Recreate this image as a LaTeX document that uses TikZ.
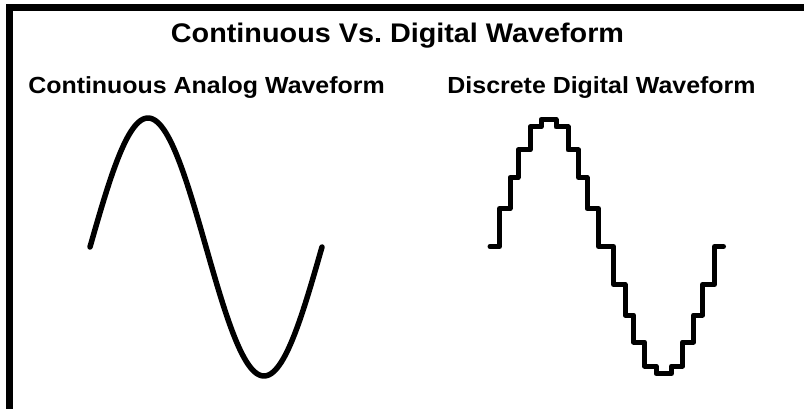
\documentclass[tikz,border=0pt]{standalone}
\usepackage{fontspec}
\setmainfont{Liberation Sans}[FakeStretch=1.07]

\tikzset{
  heading/.style={font=\bfseries\fontsize{26.9}{28}\selectfont, inner sep=0pt, anchor=base},
  subheading/.style={font=\bfseries\fontsize{23.3}{24}\selectfont, inner sep=0pt, anchor=base},
  wave/.style={line width=5.5pt, line cap=round, line join=round},
}

\begin{document}
\begin{tikzpicture}[x=1pt,y=-1pt]
\useasboundingbox (0,0) rectangle (804,409);
%frame - top and left only
\draw[line width=7pt] (9,409)--(9,7.5)--(804,7.5);

%titles
\node[heading] (title) at (397.5,43) {Continuous Vs.\ Digital Waveform};
\node[subheading] (analog) at (206.5,94) {Continuous Analog Waveform};
\node[subheading] (digital) at (601.5,94) {Discrete Digital Waveform};

%analog - one period of a sine (232 wide)
\draw[wave] plot[domain=0:360,samples=120] ({90+0.64444*\x},{247-129*sin(\x)});

%digital - sampled sine, up then down
\draw[wave,line width=5pt] (490,246.5)--(499.5,246.5)
  |-(510,208.5) |-(518,177.5) |-(530,150) |-(541,127) |-(556,119.5)	%up to the top
  |-(568,127) |-(578.5,150) |-(587,177.5) |-(598.5,208.5) |-(613.5,246.5)
  |-(625,284.5) |-(633.5,315) |-(644.5,342) |-(656,366) |-(671.5,373.5)	%down to the bottom
  |-(682.5,366) |-(693.5,342) |-(702.5,315) |-(714.5,284.5) |-(723.5,246.5);
\end{tikzpicture}
\end{document}
